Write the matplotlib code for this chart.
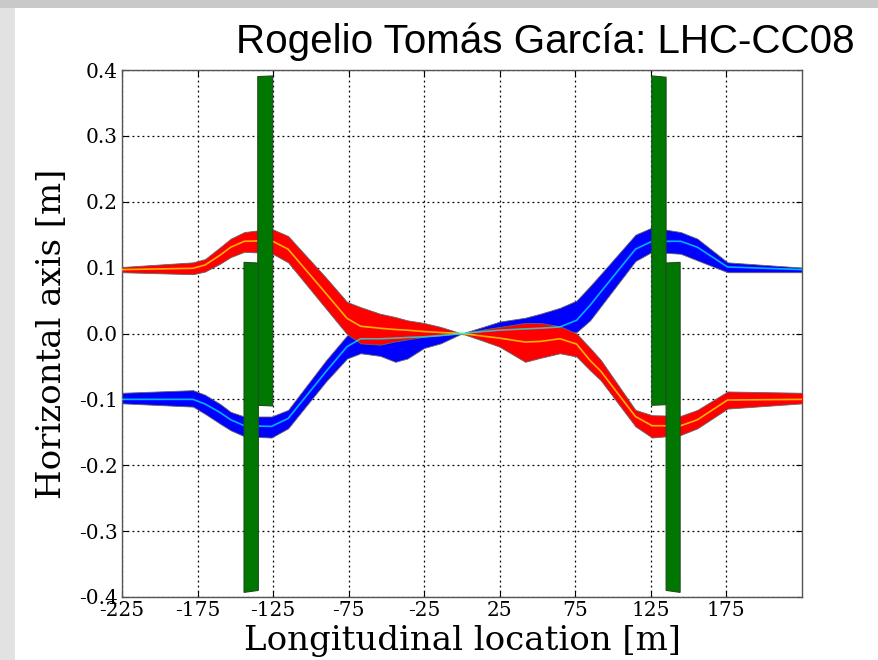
import matplotlib
matplotlib.use("Agg")
import matplotlib.pyplot as plt
from matplotlib.patches import Rectangle, Polygon
from matplotlib import font_manager

# ---------------- data ----------------
s = [-225, -178, -170, -160, -153, -144, -126, -115, -90, -76, -67, -54, -44, -36,
     -25, -14, 0, 14, 25, 42, 52, 65, 76, 85, 92, 115, 126, 145, 156, 176, 226]

red_center = [0.097, 0.099, 0.104, 0.119, 0.131, 0.140, 0.141, 0.128, 0.061, 0.023,
              0.011, 0.008, 0.006, 0.005, 0.003, 0.0015, 0.0, -0.004, -0.007, -0.013,
              -0.012, -0.008, -0.016, -0.041, -0.057, -0.126, -0.140, -0.140, -0.131,
              -0.101, -0.100]
red_upper = [0.101, 0.108, 0.113, 0.131, 0.144, 0.154, 0.159, 0.148, 0.085, 0.048,
             0.040, 0.030, 0.025, 0.020, 0.016, 0.010, 0.0, 0.006, 0.010, 0.016,
             0.016, 0.011, 0.000, -0.022, -0.040, -0.116, -0.124, -0.125, -0.116,
             -0.088, -0.090]
red_lower = [0.093, 0.090, 0.094, 0.106, 0.116, 0.124, 0.122, 0.108, 0.038, -0.001,
             -0.015, -0.017, -0.012, -0.009, -0.005, -0.003, 0.0, -0.011, -0.020,
             -0.043, -0.037, -0.030, -0.035, -0.056, -0.071, -0.141, -0.158, -0.154,
             -0.144, -0.114, -0.106]

blue_center = [-0.100, -0.100, -0.107, -0.120, -0.131, -0.140, -0.141, -0.129, -0.058,
               -0.020, -0.008, -0.008, -0.007, -0.006, -0.005, -0.003, 0.0, 0.003,
               0.005, 0.007, 0.008, 0.010, 0.020, 0.043, 0.063, 0.128, 0.140, 0.140,
               0.131, 0.101, 0.097]
blue_upper = [-0.090, -0.086, -0.093, -0.107, -0.119, -0.126, -0.126, -0.116, -0.041,
              -0.003, 0.004, 0.004, 0.004, 0.004, 0.003, 0.002, 0.0, 0.010, 0.018,
              0.024, 0.030, 0.039, 0.050, 0.072, 0.090, 0.150, 0.161, 0.154, 0.144,
              0.108, 0.100]
blue_lower = [-0.106, -0.111, -0.122, -0.137, -0.147, -0.156, -0.158, -0.144, -0.073,
              -0.038, -0.030, -0.034, -0.043, -0.038, -0.022, -0.015, 0.0, -0.002,
              0.000, 0.000, 0.000, 0.002, 0.002, 0.020, 0.041, 0.110, 0.124, 0.121,
              0.111, 0.093, 0.093]

# magnets: (s_left, s_right, y_top_left, y_top_right, y_bot_left, y_bot_right)
magnets = [
    (-135.1, -125.2, 0.390, 0.391, -0.109, -0.110),
    (-144.2, -134.7, 0.108, 0.107, -0.393, -0.390),
    (125.8, 135.3, 0.391, 0.389, -0.109, -0.108),
    (135.3, 144.6, 0.107, 0.108, -0.390, -0.393),
]

xticks = [-225, -175, -125, -75, -25, 25, 75, 125, 175]
xtick_labels = ["-225", "-175", "-125", "-75", "-25", "25", "75", "125", "175"]
yticks = [-0.4, -0.3, -0.2, -0.1, 0.0, 0.1, 0.2, 0.3, 0.4]
ytick_labels = ["-0.4", "-0.3", "-0.2", "-0.1", "0.0", "0.1", "0.2", "0.3", "0.4"]

title = "Rogelio Tomás García: LHC-CC08"
xlabel = "Longitudinal location [m]"
ylabel = "Horizontal axis [m]"


def pick_font(cands):
    for c in cands:
        try:
            font_manager.findfont(c, fallback_to_default=False)
            return c
        except Exception:
            pass
    return "DejaVu Sans"


title_font = pick_font(["Liberation Sans Narrow", "Liberation Sans"])

# ---------------- figure ----------------
fig = plt.figure(figsize=(8.79, 6.6), dpi=100)
fig.patch.set_facecolor("white")
# slide frame
fig.patches.append(Rectangle((0, 0), 15 / 879, 1, transform=fig.transFigure,
                             facecolor="#e2e2e2", edgecolor="none", zorder=0))
fig.patches.append(Rectangle((0, 1 - 8 / 660), 1, 8 / 660, transform=fig.transFigure,
                             facecolor="#c9c9c9", edgecolor="none", zorder=0))

ax = fig.add_axes([122 / 879, 63 / 660, 680 / 879, 527 / 660])

ax.fill_between(s, blue_lower, blue_upper, facecolor="#0000ff", edgecolor="0.4",
                linewidth=0.6, zorder=2)
ax.fill_between(s, red_lower, red_upper, facecolor="#ff0000", edgecolor="0.4",
                linewidth=0.6, zorder=3)
ax.plot(s, red_center, color="#ffff00", lw=1.2, alpha=0.7, zorder=4)
ax.plot(s, blue_center, color="#00ffff", lw=1.2, alpha=0.7, zorder=4)

for (xl, xr, ytl, ytr, ybl, ybr) in magnets:
    ax.add_patch(Polygon([(xl, ybl), (xl, ytl), (xr, ytr), (xr, ybr)], closed=True,
                         facecolor="#007700", edgecolor="#1d4d1d", linewidth=0.8,
                         zorder=5))

ax.set_xlim(-225, 225.3)
ax.set_ylim(-0.4, 0.4)
ax.set_xticks(xticks)
ax.set_xticklabels(xtick_labels)
ax.set_yticks(yticks)
ax.set_yticklabels(ytick_labels)
ax.grid(True, color="black", linestyle=(0, (1.5, 2.5)), linewidth=0.9)
ax.set_axisbelow(True)
ax.tick_params(direction="in", length=4, top=True, right=True, labelsize=14.5,
               pad=3, color="black")
for lab in ax.get_xticklabels() + ax.get_yticklabels():
    lab.set_family("DejaVu Serif")
    lab.set_fontsize(14.5)
for sp in ax.spines.values():
    sp.set_color("#555555")
    sp.set_linewidth(1.0)

ax.set_xlabel(xlabel, family="DejaVu Serif", fontsize=24.5)
ax.set_ylabel(ylabel, family="DejaVu Serif", fontsize=24.5)
ax.xaxis.set_label_coords(0.5, -0.054)
ax.yaxis.set_label_coords(-0.079, 0.5)

t = fig.text(855 / 879, 1 - 42 / 660, title, ha="right", va="center", fontsize=30,
             family=[title_font, "DejaVu Sans"])
# fit title width to the reference span (about 619 px)
fig.canvas.draw()
w = t.get_window_extent().width
t.set_fontsize(30 * 619 / w)

fig.savefig("out.png", dpi=100)
